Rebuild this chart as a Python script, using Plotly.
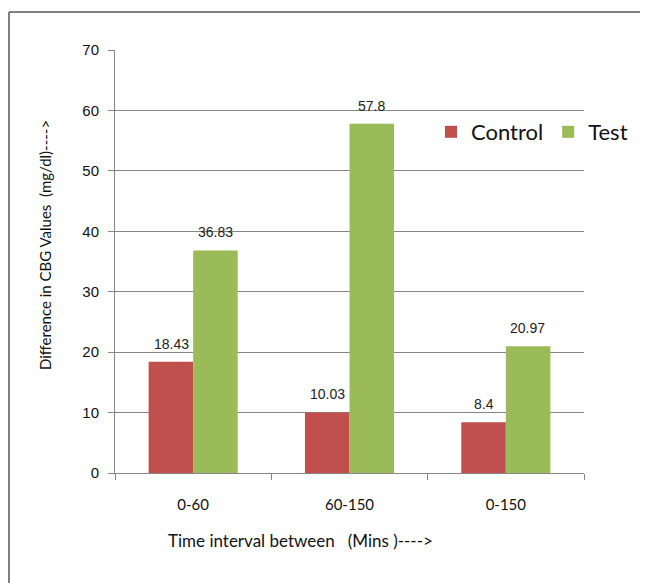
import plotly.graph_objects as go

categories = ["0-60", "60-150", "0-150"]
control_values = [18.43, 10.03, 8.4]
test_values = [36.83, 57.8, 20.97]
y_ticks = [0, 10, 20, 30, 40, 50, 60, 70]

RED = "#C0504D"
GREEN = "#9BBB59"
GRID = "#868686"

fig = go.Figure()
fig.add_trace(go.Bar(name="Control", x=categories, y=control_values, marker_color=RED,
                     marker_line_width=0))
fig.add_trace(go.Bar(name="Test", x=categories, y=test_values, marker_color=GREEN,
                     marker_line_width=0))

# data labels
for vals, shift in ((control_values, -22), (test_values, 22)):
    for c, v in zip(categories, vals):
        fig.add_annotation(x=c, y=v, text=f"{v:g}", showarrow=False, xshift=shift,
                           yshift=18, yanchor="middle",
                           font=dict(family="Liberation Sans Narrow, Liberation Sans, Arial",
                                     size=14, color="#222222"))

OFF = 8  # page offset of the figure inside the browser window
W, H = 640, 575
L, T = 115 - OFF, 50 - OFF
R = W - (584 - OFF)
B = H - (473 - OFF)
pw, ph = W - L - R, H - T - B

def px(x):
    return (x - OFF - L) / pw

def py(y):
    return (H - B - (y - OFF)) / ph

fig.update_layout(
    width=W, height=H,
    margin=dict(l=L, r=R, t=T, b=B),
    paper_bgcolor="white", plot_bgcolor="white",
    barmode="group", bargap=0.43, bargroupgap=0,
    showlegend=True,
    legend=dict(orientation="h", x=px(431), y=py(132), xanchor="left", yanchor="middle",
                font=dict(family="Lato, Open Sans, sans-serif", size=22, color="#111111"),
                bgcolor="rgba(0,0,0,0)", itemwidth=30, tracegroupgap=0),
    xaxis=dict(showgrid=False, showline=True, linecolor=GRID, linewidth=1,
               ticks="outside", tickson="boundaries", ticklen=6, tickcolor=GRID,
               ticklabelstandoff=18,
               tickfont=dict(family="Lato, Open Sans, sans-serif", size=15, color="#111111")),
    yaxis=dict(range=[0, 70], tickvals=y_ticks, showgrid=True, gridcolor=GRID, gridwidth=1,
               showline=True, linecolor=GRID, linewidth=1, ticks="outside", ticklen=6,
               tickcolor=GRID, zeroline=False, ticklabelstandoff=6,
               tickfont=dict(family="Liberation Sans Narrow, Liberation Sans, Arial",
                             size=15, color="#111111")),
    shapes=[
        dict(type="line", xref="paper", yref="paper", x0=px(9), x1=px(700), y0=py(12), y1=py(12),
             line=dict(color="#808080", width=2)),
        dict(type="line", xref="paper", yref="paper", x0=px(9), x1=px(9), y0=py(12), y1=py(650),
             line=dict(color="#808080", width=2)),
    ],
)

fig.add_annotation(xref="paper", yref="paper", x=px(45), y=py(245),
                   xanchor="center", yanchor="middle",
                   text="Difference in CBG Values  (mg/dl)---->", textangle=-90, showarrow=False,
                   font=dict(family="Lato, Open Sans, sans-serif", size=15, color="#111111"))
fig.add_annotation(xref="paper", yref="paper", x=px(300), y=py(540),
                   xanchor="center", yanchor="middle",
                   text="Time interval between   (Mins )---->", showarrow=False,
                   font=dict(family="Lato, Open Sans, sans-serif", size=17, color="#111111"))

fig.write_html("out.html")
